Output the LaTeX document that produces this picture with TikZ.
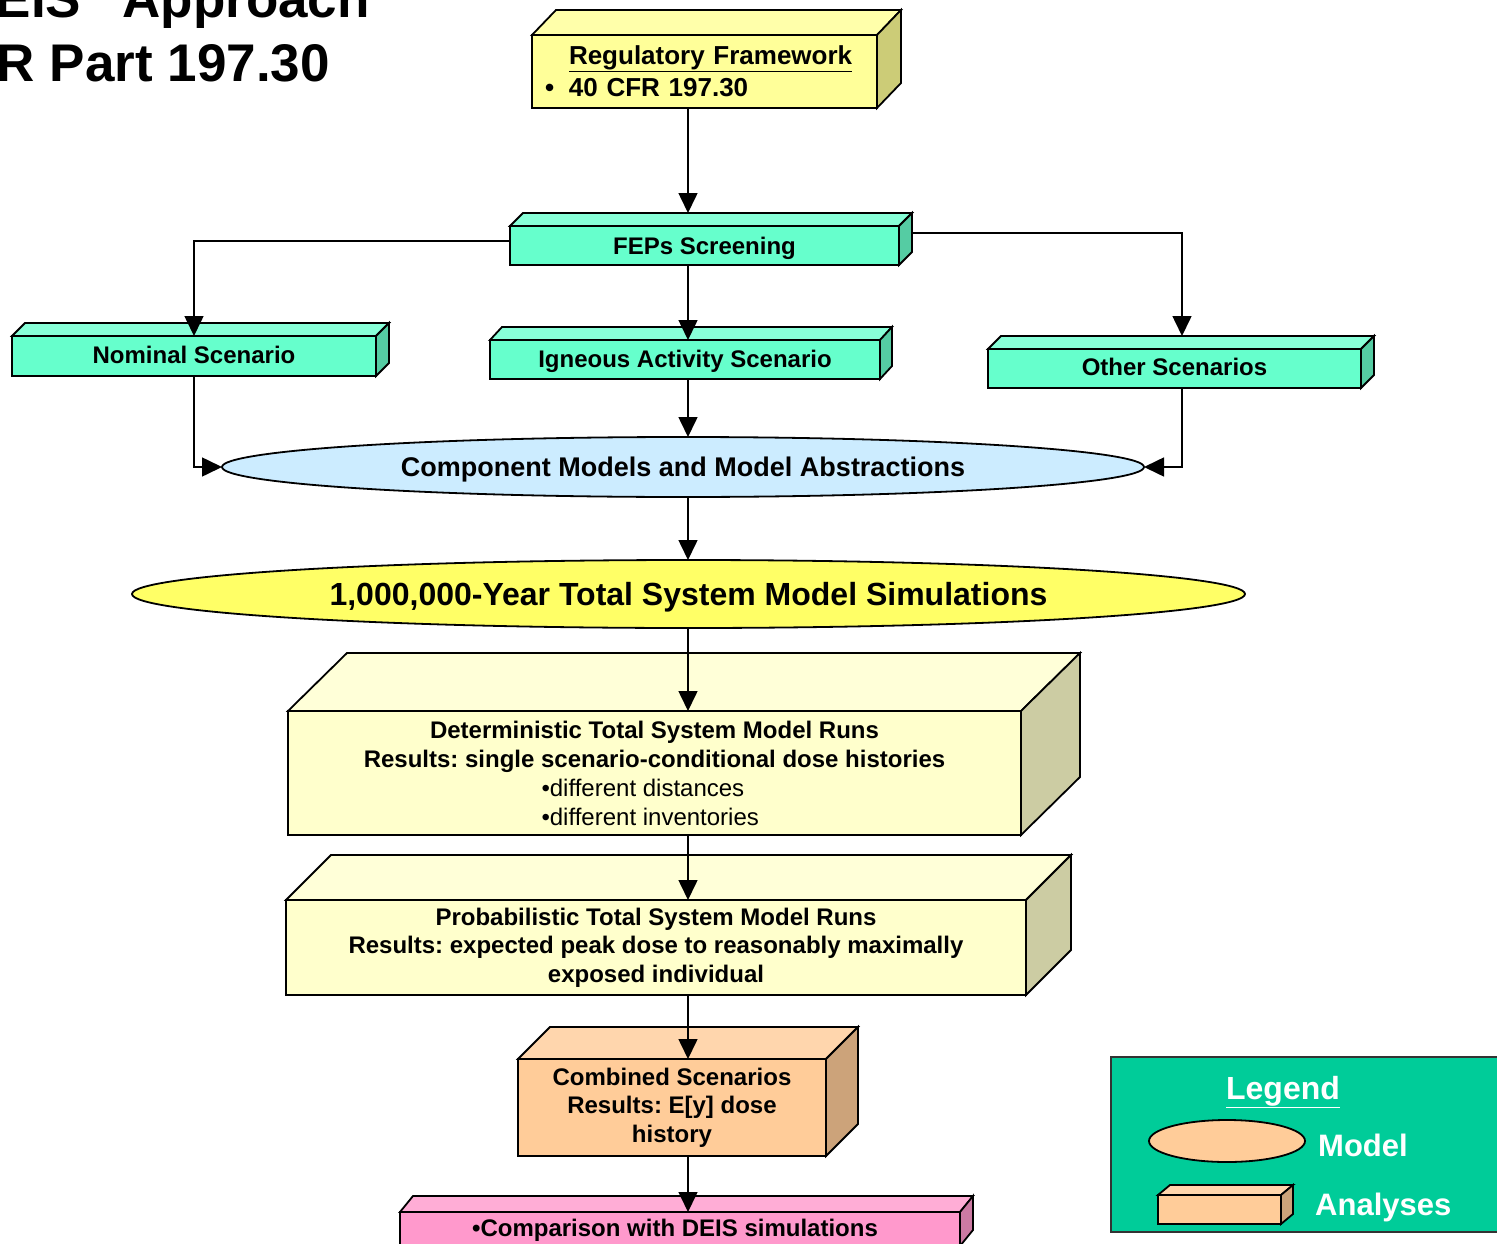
\documentclass[tikz,border=0pt]{standalone}
\usepackage{fontspec}
\setmainfont{Liberation Sans}
\usetikzlibrary{shapes.geometric,arrows.meta,calc}
\frenchspacing

\definecolor{regfront}{HTML}{FFFF99}
\definecolor{regtop}{HTML}{FFFFAA}
\definecolor{regside}{HTML}{CCCC77}
\definecolor{grnfront}{HTML}{66FFCC}
\definecolor{grntop}{HTML}{88FFD8}
\definecolor{grnside}{HTML}{55CCA3}
\definecolor{palefront}{HTML}{FFFFCC}
\definecolor{paletop}{HTML}{FFFFD8}
\definecolor{paleside}{HTML}{CCCCA3}
\definecolor{orgfront}{HTML}{FFCC99}
\definecolor{orgtop}{HTML}{FFD6AD}
\definecolor{orgside}{HTML}{CCA37A}
\definecolor{pnkfront}{HTML}{FF99CC}
\definecolor{pnktop}{HTML}{FFADD6}
\definecolor{pnkside}{HTML}{CC7AA3}
\definecolor{compblue}{HTML}{CCECFF}
\definecolor{simyellow}{HTML}{FFFF66}
\definecolor{legendbg}{HTML}{00CC99}

% top and right faces of a slab drawn behind its front node
\newcommand\slabfaces[5]{%
  \filldraw[face, fill=#4] (#1.north west) -- ++(#2,-#3) -- ($(#1.north east)+(#2,-#3)$) -- (#1.north east) -- cycle;
  \filldraw[face, fill=#5] (#1.north east) -- ++(#2,-#3) -- ($(#1.south east)+(#2,-#3)$) -- (#1.south east) -- cycle;
  \coordinate (#1-back) at ($(#1.north)+(#2,-#3)$);
  \coordinate (#1-ne) at ($(#1.north east)+(#2,-#3)$);
}
% lower a label inside its node without changing the node's size
\newcommand\lowerby[2]{\raisebox{-#1}[\height][\depth]{#2}}

\begin{document}
\begin{tikzpicture}[x=1pt,y=-1pt,
  face/.style={draw=black, line width=1.8pt, line join=miter},
  slab/.style={draw=black, line width=1.8pt, rectangle, inner sep=0pt, outer sep=0pt, align=center},
  lbl/.style={font=\fontsize{24}{29}\selectfont\bfseries},
  model/.style={draw=black, line width=1.8pt, ellipse, inner sep=0pt, outer sep=0pt},
  conn/.style={line width=1.6pt, -{Triangle[length=20pt,width=19pt]}},
  plain/.style={line width=1.6pt}]

\useasboundingbox (0,0) rectangle (1497,1244);
\clip (0,0) rectangle (1497,1244);

% heading
\node[anchor=base east, inner sep=0pt, font=\fontsize{53}{60}\selectfont\bfseries] (head1) at (370,18) {EIS" Approach};
\node[anchor=base east, inner sep=0pt, font=\fontsize{53}{60}\selectfont\bfseries] (head2) at (330,82) {R Part 197.30};

% regulatory framework
\node[slab, fill=regfront, minimum height=73, text width=319, inner xsep=13pt, align=left,
      font=\fontsize{26}{32}\selectfont\bfseries] (reg) at (704.5,71.5)
  {\hspace*{24pt}\underline{Regulatory Framework}\\\makebox[24pt][l]{•}40 CFR 197.30};
\slabfaces{reg}{24}{25}{regtop}{regside}

% screening and scenarios
\node[slab, lbl, fill=grnfront, minimum width=389, minimum height=39] (feps) at (704.5,245.5) {\lowerby{3pt}{FEPs Screening}};
\slabfaces{feps}{13}{13}{grntop}{grnside}
\node[slab, lbl, fill=grnfront, minimum width=364, minimum height=40] (nominal) at (194,356) {\lowerby{-1pt}{Nominal Scenario}};
\slabfaces{nominal}{13}{13}{grntop}{grnside}
\node[slab, lbl, fill=grnfront, minimum width=390, minimum height=39] (igneous) at (685,359.5) {\lowerby{2pt}{Igneous Activity Scenario}};
\slabfaces{igneous}{12}{13}{grntop}{grnside}
\node[slab, lbl, fill=grnfront, minimum width=373, minimum height=39] (other) at (1174.5,368.5) {\lowerby{-1.5pt}{Other Scenarios}};
\slabfaces{other}{13}{13}{grntop}{grnside}

% models
\node[model, fill=compblue, minimum width=922, minimum height=60, font=\fontsize{27}{30}\selectfont\bfseries] (comp) at (683,467) {\lowerby{3pt}{Component Models and Model Abstractions}};
\node[model, fill=simyellow, minimum width=1113, minimum height=68, font=\fontsize{32}{36}\selectfont\bfseries] (tsm) at (688.5,594) {\lowerby{3pt}{1,000,000-Year Total System Model Simulations}};

% analyses
\node[slab, lbl, fill=palefront, minimum width=733, minimum height=124] (det) at (654.5,773)
  {Deterministic Total System Model Runs\\Results: single scenario-conditional dose histories\\
   {\mdseries\makebox[226pt][l]{•different distances}}\\{\mdseries\makebox[226pt][l]{•different inventories}}};
\slabfaces{det}{59}{58}{paletop}{paleside}
\node[slab, fill=palefront, minimum width=740, minimum height=95, font=\fontsize{24}{28.5}\selectfont\bfseries] (prob) at (656,947.5)
  {Probabilistic Total System Model Runs\\Results: expected peak dose to reasonably maximally\\exposed individual};
\slabfaces{prob}{45}{45}{paletop}{paleside}
\node[slab, fill=orgfront, minimum width=308, minimum height=97, font=\fontsize{24}{28.5}\selectfont\bfseries] (comb) at (672,1107.5)
  {Combined Scenarios\\Results: E[y] dose\\history};
\slabfaces{comb}{32}{32}{orgtop}{orgside}
\node[slab, lbl, fill=pnkfront, minimum width=560, minimum height=34] (cmp) at (680,1229) {\hspace*{-10pt}\lowerby{1pt}{•Comparison with DEIS simulations}};
\slabfaces{cmp}{13}{16}{pnktop}{pnkside}

% connectors
\coordinate (spine) at (688,0);
\coordinate (nomcol) at (194,241);
\coordinate (othcol) at (1182,233);
\draw[conn] (spine |- reg.south) -- (spine |- feps-back);
\draw[conn] (feps.west |- nomcol) -- (nomcol) -- (nomcol |- nominal.north);
\draw[conn] (othcol -| feps-ne) -- (othcol) -- (othcol |- other-back);
\draw[conn] (spine |- feps.south) -- (spine |- igneous.north);
\draw[conn] (nominal.south) -- (nominal.south |- comp.west) -- (comp.west);
\draw[conn] (spine |- igneous.south) -- (spine |- comp.north);
\draw[conn] (othcol |- other.south) -- (othcol |- comp.east) -- (comp.east);
\draw[conn] (spine |- comp.south) -- (spine |- tsm.north);
\draw[conn] (spine |- tsm.south) -- (spine |- det.north);
\draw[conn] (spine |- det.south) -- (spine |- prob.north);
\draw[conn] (spine |- prob.south) -- (spine |- comb.north);
\draw[conn] (spine |- comb.south) -- (spine |- cmp.north);

% legend
\node[draw=black!80, line width=1.8pt, fill=legendbg, minimum width=399, minimum height=175, inner sep=0pt] (legend) at (1310.5,1144.5) {};
\node[text=white, font=\fontsize{32}{36}\selectfont\bfseries] (legtitle) at (1283,1092) {\underline{Legend}};
\node[model, fill=orgfront, minimum width=156, minimum height=42] (legmodel) at (1227,1141) {};
\node[anchor=west, inner sep=0pt, text=white, font=\fontsize{31}{36}\selectfont\bfseries] (legmodeltxt) at (1318,1145) {Model};
\node[slab, fill=orgfront, minimum width=123, minimum height=29] (legbox) at (1219.5,1209.5) {};
\slabfaces{legbox}{12}{10}{orgtop}{orgside}
\node[anchor=west, inner sep=0pt, text=white, font=\fontsize{31}{36}\selectfont\bfseries] (legboxtxt) at (1315,1207) {Analyses};
\end{tikzpicture}
\end{document}
